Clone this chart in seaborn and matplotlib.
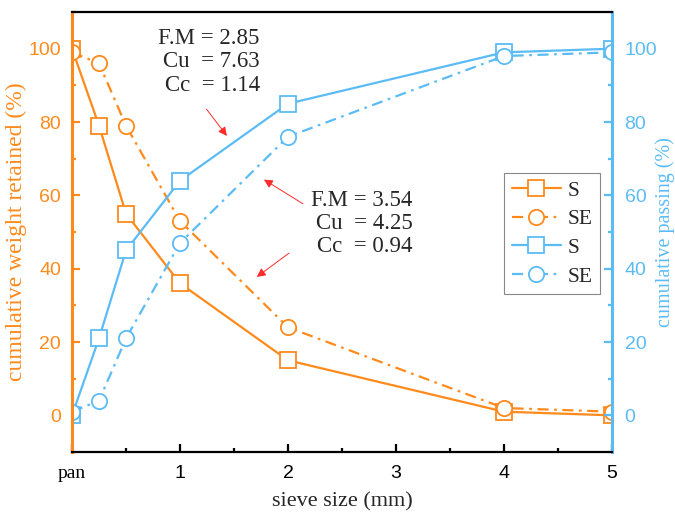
import seaborn as sns
import matplotlib.pyplot as plt
from matplotlib.ticker import MultipleLocator, FixedLocator

# sieve sizes (mm), "pan" plotted at 0
sizes = [0, 0.25, 0.5, 1, 2, 4, 5]
xtick_pos = [0, 1, 2, 3, 4, 5]
xtick_labels = ["pan", "1", "2", "3", "4", "5"]

# cumulative weight retained (%)
ret_S = [100, 79, 55, 36, 15, 1, 0]
ret_SE = [99, 96, 79, 53, 24, 2, 1]

# cumulative passing (%)
pass_S = [0, 21, 45, 64, 85, 99, 100]
pass_SE = [1, 4, 21, 47, 76, 98, 99]

text_S = "F.M = 2.85\nCu  = 7.63\nCc  = 1.14"
text_SE = "F.M = 3.54\nCu  = 4.25\nCc  = 0.94"

sns.set_style("ticks")
plt.rcParams["font.family"] = ["Liberation Sans", "DejaVu Sans"]
serif = ["Liberation Serif", "DejaVu Serif"]

orange = "#ff8a1c"
blue = "#5bbcf5"
dashdot = (0, (5, 2.5, 1.2, 2.5))

fig = plt.figure(figsize=(6.75, 5.16), dpi=100)
ax = fig.add_axes([0.1067, 0.124, 0.8, 0.8527])
ax2 = ax.twinx()

common = dict(markersize=11, markerfacecolor="white", markeredgewidth=1.3, lw=1.6)
sns.lineplot(x=sizes, y=ret_S, ax=ax, color=orange, marker="s",
             markeredgecolor=orange, label="S", **common)
sns.lineplot(x=sizes, y=ret_SE, ax=ax, color=orange, marker="o",
             markeredgecolor=orange, linestyle=dashdot, label="SE", **common)
sns.lineplot(x=sizes, y=pass_S, ax=ax2, color=blue, marker="s",
             markeredgecolor=blue, label="S", **common)
sns.lineplot(x=sizes, y=pass_SE, ax=ax2, color=blue, marker="o",
             markeredgecolor=blue, linestyle=dashdot, label="SE", **common)
ax.get_legend().remove()
ax2.get_legend().remove()

for a in (ax, ax2):
    a.set_xlim(0, 5)
    a.set_ylim(-10, 110)
    a.grid(False)

ax.xaxis.set_major_locator(FixedLocator(xtick_pos))
ax.set_xticklabels(xtick_labels)
ax.xaxis.set_minor_locator(MultipleLocator(0.5))
ax.get_xticklabels()[0].set_fontfamily(serif)
ax.get_xticklabels()[0].set_fontsize(16)
ax.yaxis.set_major_locator(FixedLocator([0, 20, 40, 60, 80, 100]))
ax.yaxis.set_minor_locator(MultipleLocator(10))
ax2.yaxis.set_major_locator(FixedLocator([0, 20, 40, 60, 80, 100]))
ax2.yaxis.set_minor_locator(MultipleLocator(10))

ax.tick_params(axis="x", which="both", direction="in", colors="black",
               labelsize=14, width=1.6, pad=9)
ax.tick_params(axis="x", which="major", length=6)
ax.tick_params(axis="x", which="minor", length=3)
ax.tick_params(axis="y", which="both", direction="in", colors=orange,
               labelsize=14, width=1.6, pad=8)
ax.tick_params(axis="y", which="major", length=6)
ax.tick_params(axis="y", which="minor", length=3)
ax2.tick_params(axis="y", which="both", direction="in", colors=blue,
                labelsize=14, width=1.6, pad=9)
ax2.tick_params(axis="y", which="major", length=6)
ax2.tick_params(axis="y", which="minor", length=3)

ax2.spines["left"].set_color(orange)
ax2.spines["left"].set_linewidth(2.2)
ax2.spines["right"].set_color(blue)
ax2.spines["right"].set_linewidth(2.2)
for s in ("top", "bottom"):
    ax2.spines[s].set_color("black")
    ax2.spines[s].set_linewidth(1.6)
for s in ax.spines.values():
    s.set_visible(False)

ax.set_xlabel("sieve size (mm)", fontfamily=serif, fontsize=16, labelpad=8)
ax.set_ylabel("cumulative weight retained (%)", fontfamily=serif, fontsize=17,
              color=orange, labelpad=1)
ax2.set_ylabel("cumulative passing (%)", fontfamily=serif, fontsize=14.5,
               color=blue, labelpad=-1)

# annotations
ax.text(1.27, 96.4, text_S, fontfamily=serif, fontsize=16.5, ha="center",
        va="center", multialignment="right", linespacing=1.15)
ax.text(2.685, 52.3, text_SE, fontfamily=serif, fontsize=16.5, ha="center",
        va="center", multialignment="right", linespacing=1.15)
arrow = dict(arrowstyle="-|>", color="#ff2a2a", lw=0.7, mutation_scale=13)
ax.annotate("", xy=(1.45, 75.6), xytext=(1.23, 84.1), arrowprops=arrow)
ax.annotate("", xy=(1.755, 64.7), xytext=(2.16, 57.3), arrowprops=arrow)
ax.annotate("", xy=(1.69, 37.3), xytext=(2.03, 44.7), arrowprops=arrow)

handles = ax.get_lines()[:2] + ax2.get_lines()[:2]
leg = ax2.legend(handles, ["S", "SE", "S", "SE"], loc="upper right",
                 bbox_to_anchor=(0.978, 0.634), borderaxespad=0, fancybox=False,
                 edgecolor="#888888", framealpha=1, handlelength=2.3,
                 handletextpad=0.3, borderpad=0.35, labelspacing=0.4,
                 prop={"family": serif, "size": 15.5})
leg.get_frame().set_linewidth(0.8)

fig.savefig("out.png", dpi=100)
